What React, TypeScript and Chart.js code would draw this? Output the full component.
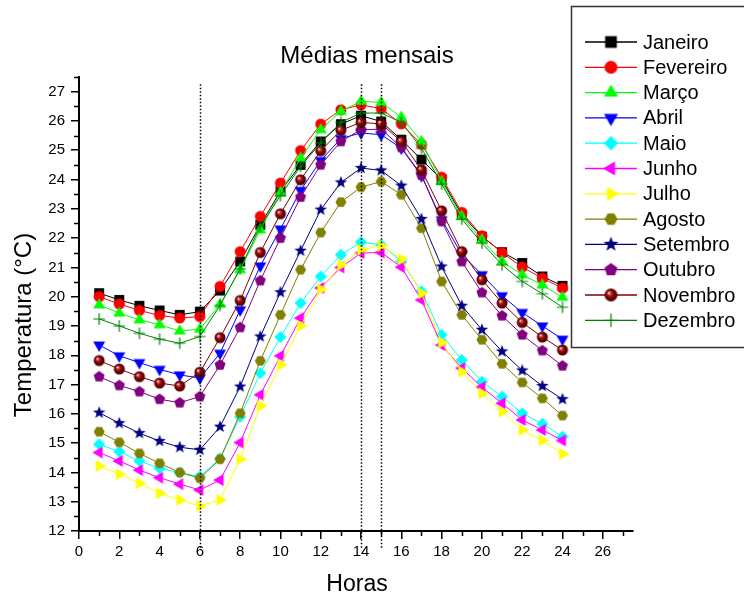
import React, { useEffect, useRef } from 'react';
import { Chart, registerables } from 'chart.js';

Chart.register(...registerables);

const hours = [1, 2, 3, 4, 5, 6, 7, 8, 9, 10, 11, 12, 13, 14, 15, 16, 17, 18, 19, 20, 21, 22, 23, 24];

const janeiro = [20.12, 19.89, 19.69, 19.53, 19.38, 19.49, 20.21, 21.2, 22.45, 23.6, 24.5, 25.3, 25.89, 26.18, 25.98, 25.36, 24.68, 24.0, 22.8, 22.05, 21.52, 21.15, 20.69, 20.37];
const fevereiro = [20.0, 19.75, 19.53, 19.36, 19.27, 19.32, 20.35, 21.54, 22.74, 23.88, 24.99, 25.89, 26.38, 26.55, 26.42, 25.9, 25.2, 24.08, 22.88, 22.08, 21.5, 21.01, 20.63, 20.29];
const marco = [19.72, 19.44, 19.21, 19.04, 18.83, 18.89, 19.74, 20.92, 22.28, 23.56, 24.73, 25.7, 26.33, 26.67, 26.63, 26.13, 25.3, 23.93, 22.74, 21.94, 21.2, 20.75, 20.4, 19.98];
const abril = [18.35, 17.98, 17.75, 17.52, 17.33, 17.22, 18.07, 19.55, 21.05, 22.31, 23.63, 24.65, 25.4, 25.59, 25.53, 25.07, 24.13, 22.63, 21.45, 20.75, 20.03, 19.46, 19.0, 18.55];
const maio = [14.96, 14.71, 14.39, 14.14, 13.99, 13.86, 14.48, 15.9, 17.39, 18.62, 19.78, 20.69, 21.43, 21.86, 21.77, 21.2, 20.18, 18.7, 17.84, 17.1, 16.59, 16.02, 15.66, 15.22];
const junho = [14.68, 14.39, 14.08, 13.82, 13.6, 13.4, 13.74, 15.02, 16.65, 17.98, 19.27, 20.3, 21.0, 21.49, 21.51, 21.01, 19.89, 18.35, 17.56, 16.91, 16.36, 15.79, 15.45, 15.09];
const julho = [14.22, 13.94, 13.63, 13.29, 13.06, 12.85, 13.06, 14.45, 16.27, 17.67, 19.0, 20.25, 21.09, 21.6, 21.74, 21.28, 20.12, 18.43, 17.44, 16.7, 16.08, 15.45, 15.09, 14.63];
const agosto = [15.39, 15.03, 14.65, 14.31, 14.0, 13.8, 14.45, 16.02, 17.81, 19.38, 20.92, 22.19, 23.23, 23.74, 23.93, 23.48, 22.34, 20.52, 19.38, 18.53, 17.71, 17.07, 16.53, 15.94];
const setembro = [16.04, 15.68, 15.34, 15.07, 14.86, 14.77, 15.56, 16.93, 18.64, 20.15, 21.57, 22.97, 23.9, 24.39, 24.31, 23.79, 22.65, 21.03, 19.69, 18.87, 18.13, 17.48, 16.95, 16.5];
const outubro = [17.27, 16.97, 16.76, 16.5, 16.38, 16.59, 17.67, 18.95, 20.55, 22.0, 23.4, 24.5, 25.3, 25.7, 25.72, 25.1, 24.15, 22.57, 21.2, 20.14, 19.35, 18.7, 18.16, 17.64];
const novembro = [17.82, 17.53, 17.27, 17.05, 16.95, 17.42, 18.6, 19.87, 21.51, 22.83, 23.99, 24.98, 25.68, 25.95, 25.9, 25.3, 24.33, 22.93, 21.54, 20.58, 19.78, 19.12, 18.62, 18.18];
const dezembro = [19.24, 19.0, 18.75, 18.55, 18.41, 18.64, 19.7, 20.95, 22.4, 23.45, 24.45, 25.25, 25.95, 26.27, 26.27, 25.95, 25.07, 23.85, 22.65, 21.83, 21.09, 20.52, 20.1, 19.64];

const monthNames = ['Janeiro', 'Fevereiro', 'Março', 'Abril', 'Maio', 'Junho', 'Julho', 'Agosto', 'Setembro', 'Outubro', 'Novembro', 'Dezembro'];
const monthValues = [janeiro, fevereiro, marco, abril, maio, junho, julho, agosto, setembro, outubro, novembro, dezembro];
const monthColors = ['#000000', '#ff0000', '#00ff00', '#0000ff', '#00ffff', '#ff00ff', '#ffff00', '#808000', '#000080', '#800080', '#800000', '#008000'];
const monthShapes = ['square', 'circle', 'triUp', 'triDown', 'diamond', 'triLeft', 'triRight', 'hexagon', 'star', 'pentagon', 'sphere', 'plus'];

const referenceHours = [6, 14, 15];

const chartTitle = 'Médias mensais';
const xTitle = 'Horas';
const yTitle = 'Temperatura (°C)';

const FONT = '"Liberation Sans", Arial, Helvetica, sans-serif';

function makeMarker(shape: string, color: string, size: number): HTMLCanvasElement {
  const dim = Math.ceil(size * 1.6) + 2;
  const c = document.createElement('canvas');
  c.width = dim;
  c.height = dim;
  const g = c.getContext('2d') as CanvasRenderingContext2D;
  const cx = dim / 2;
  const cy = dim / 2;
  const r = size / 2;
  g.fillStyle = color;
  g.strokeStyle = color;
  const regular = (n: number, start: number, rad: number) => {
    g.beginPath();
    for (let i = 0; i < n; i++) {
      const a = start + (i * 2 * Math.PI) / n;
      const px = cx + rad * Math.cos(a);
      const py = cy + rad * Math.sin(a);
      if (i === 0) g.moveTo(px, py);
      else g.lineTo(px, py);
    }
    g.closePath();
    g.fill();
  };
  switch (shape) {
    case 'square':
      g.fillRect(cx - r * 0.9, cy - r * 0.9, r * 1.8, r * 1.8);
      break;
    case 'circle':
      g.beginPath();
      g.arc(cx, cy, r, 0, Math.PI * 2);
      g.fill();
      break;
    case 'triUp':
      regular(3, -Math.PI / 2, r * 1.25);
      break;
    case 'triDown':
      regular(3, Math.PI / 2, r * 1.25);
      break;
    case 'triLeft':
      regular(3, Math.PI, r * 1.25);
      break;
    case 'triRight':
      regular(3, 0, r * 1.25);
      break;
    case 'diamond':
      regular(4, -Math.PI / 2, r * 1.1);
      break;
    case 'hexagon':
      regular(6, 0, r * 1.0);
      break;
    case 'pentagon':
      regular(5, -Math.PI / 2, r * 1.05);
      break;
    case 'star': {
      const outer = r * 1.2;
      const inner = r * 0.5;
      g.beginPath();
      for (let i = 0; i < 10; i++) {
        const a = -Math.PI / 2 + (i * Math.PI) / 5;
        const rad = i % 2 === 0 ? outer : inner;
        const px = cx + rad * Math.cos(a);
        const py = cy + rad * Math.sin(a);
        if (i === 0) g.moveTo(px, py);
        else g.lineTo(px, py);
      }
      g.closePath();
      g.fill();
      break;
    }
    case 'sphere': {
      const grad = g.createRadialGradient(cx - r * 0.35, cy - r * 0.35, r * 0.05, cx, cy, r);
      grad.addColorStop(0, '#ffffff');
      grad.addColorStop(0.22, '#c04040');
      grad.addColorStop(0.55, '#800000');
      grad.addColorStop(1, '#4a0000');
      g.fillStyle = grad;
      g.beginPath();
      g.arc(cx, cy, r, 0, Math.PI * 2);
      g.fill();
      break;
    }
    case 'plus':
      g.lineWidth = 1.2;
      g.beginPath();
      g.moveTo(cx - r * 1.05, cy);
      g.lineTo(cx + r * 1.05, cy);
      g.moveTo(cx, cy - r * 1.05);
      g.lineTo(cx, cy + r * 1.05);
      g.stroke();
      break;
  }
  return c;
}

export default function App() {
  const canvasRef = useRef<HTMLCanvasElement | null>(null);

  useEffect(() => {
    const canvas = canvasRef.current;
    if (!canvas) return;

    const plotMarkers = monthShapes.map((s, i) => makeMarker(s, monthColors[i], 11));
    const legendMarkers = monthShapes.map((s, i) => makeMarker(s, monthColors[i], 13));

    const datasets = monthNames.map((name, i) => ({
      label: name,
      data: hours.map((h, j) => ({ x: h, y: monthValues[i][j] })),
      borderColor: monthColors[i],
      backgroundColor: monthColors[i],
      borderWidth: 1,
      pointStyle: plotMarkers[i],
      pointRadius: 5,
      pointHoverRadius: 5,
      tension: 0,
      fill: false,
      order: monthNames.length - i,
    }));

    const decor = {
      id: 'decor',
      afterDatasetsDraw(chart: any) {
        const { ctx, chartArea, scales } = chart;
        const xs = scales.x;
        const ys = scales.y;
        ctx.save();
        ctx.strokeStyle = '#000';
        ctx.lineWidth = 1.5;
        ctx.setLineDash([1.5, 2]);
        const yTop = ys.getPixelForValue(27.25);
        const yBot = chartArea.bottom + 18;
        referenceHours.forEach((h) => {
          const px = Math.round(xs.getPixelForValue(h)) + 0.5;
          ctx.beginPath();
          ctx.moveTo(px, yTop);
          ctx.lineTo(px, yBot);
          ctx.stroke();
        });
        ctx.restore();
      },
      afterDraw(chart: any) {
        const { ctx, chartArea, scales } = chart;
        const xs = scales.x;
        const ys = scales.y;
        ctx.save();
        // minor ticks
        ctx.strokeStyle = '#000';
        ctx.lineWidth = 1.5;
        for (let v = ys.min + 0.5; v <= ys.max + 1e-6; v += 1) {
          const py = Math.round(ys.getPixelForValue(v)) + 0.5;
          ctx.beginPath();
          ctx.moveTo(chartArea.left - 5, py);
          ctx.lineTo(chartArea.left, py);
          ctx.stroke();
        }
        for (let h = 1; h <= xs.max; h += 2) {
          const px = Math.round(xs.getPixelForValue(h)) + 0.5;
          ctx.beginPath();
          ctx.moveTo(px, chartArea.bottom);
          ctx.lineTo(px, chartArea.bottom + 5);
          ctx.stroke();
        }
        // titles
        ctx.fillStyle = '#000';
        ctx.textAlign = 'center';
        ctx.textBaseline = 'middle';
        ctx.font = `24px ${FONT}`;
        ctx.fillText(chartTitle, 367, 56);
        ctx.font = `23px ${FONT}`;
        ctx.fillText(xTitle, (chartArea.left + chartArea.right) / 2 + 1, 585);
        ctx.save();
        ctx.translate(24, 325);
        ctx.rotate(-Math.PI / 2);
        ctx.font = `24px ${FONT}`;
        ctx.fillText(yTitle, 0, 0);
        ctx.restore();
        // legend
        ctx.strokeStyle = '#333';
        ctx.lineWidth = 1.5;
        ctx.setLineDash([]);
        ctx.strokeRect(571.5, 6.5, 200, 341);
        ctx.font = `20px ${FONT}`;
        ctx.textAlign = 'left';
        monthNames.forEach((name, i) => {
          const y = 42 + i * 25.3;
          ctx.strokeStyle = monthColors[i];
          ctx.lineWidth = 1.3;
          ctx.beginPath();
          ctx.moveTo(585, y);
          ctx.lineTo(637, y);
          ctx.stroke();
          const m = legendMarkers[i];
          ctx.drawImage(m, 611 - m.width / 2, y - m.height / 2);
          ctx.fillStyle = '#000';
          ctx.fillText(name, 643, y + 1);
        });
        ctx.restore();
      },
    };

    const chart = new Chart(canvas, {
      type: 'line',
      data: { datasets },
      options: {
        animation: false,
        responsive: false,
        maintainAspectRatio: false,
        layout: { padding: { top: 77, right: 111, left: 0, bottom: 0 } },
        plugins: {
          legend: { display: false },
          title: { display: false },
          tooltip: { enabled: false },
        },
        scales: {
          x: {
            type: 'linear',
            min: 0,
            max: 27.5,
            afterFit: (s: any) => {
              s.height = 72;
            },
            ticks: {
              stepSize: 2,
              includeBounds: false,
              autoSkip: false,
              maxRotation: 0,
              color: '#000',
              padding: 4,
              font: { family: FONT, size: 15 },
            },
            grid: {
              drawOnChartArea: false,
              drawTicks: true,
              tickLength: 8,
              color: '#000',
              lineWidth: 1.5,
            },
            border: { display: true, color: '#000', width: 2 },
          },
          y: {
            type: 'linear',
            min: 12,
            max: 27.5,
            afterFit: (s: any) => {
              s.width = 79;
            },
            ticks: {
              stepSize: 1,
              includeBounds: false,
              autoSkip: false,
              color: '#000',
              padding: 6,
              font: { family: FONT, size: 15 },
            },
            grid: {
              drawOnChartArea: false,
              drawTicks: true,
              tickLength: 8,
              color: '#000',
              lineWidth: 1.5,
            },
            border: { display: true, color: '#000', width: 2 },
          },
        },
      },
      plugins: [decor],
    } as any);

    return () => {
      chart.destroy();
    };
  }, []);

  return (
    <div style={{ position: 'absolute', left: 0, top: 0, width: 744, height: 603, background: '#fff' }}>
      <canvas ref={canvasRef} width={744} height={603} style={{ display: 'block' }} />
    </div>
  );
}
